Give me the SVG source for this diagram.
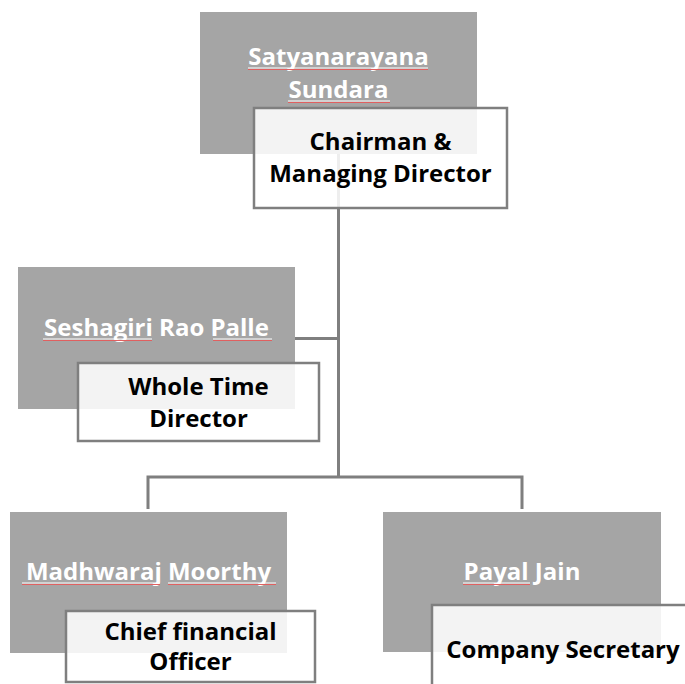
<svg xmlns="http://www.w3.org/2000/svg" width="685" height="684" viewBox="0 0 685 684">
<style>
.name{fill:#a5a5a5;}
.title{fill:#ffffff;fill-opacity:0.87;stroke:#7f7f7f;stroke-width:2.5;}
.nt{font-family:"Open Sans","Liberation Sans",sans-serif;font-weight:bold;font-size:24px;fill:#ffffff;text-anchor:middle;}
.tt{font-family:"Open Sans","Liberation Sans",sans-serif;font-weight:bold;font-size:24px;fill:#000000;text-anchor:middle;}
.conn{fill:none;stroke:#7f7f7f;stroke-width:3;}
.ul{stroke:#ffffff;stroke-width:1.2;}
.sp{stroke:#e06060;stroke-width:1;}
</style>
<rect width="685" height="684" fill="#ffffff"/>
<g id="connectors">
<path class="conn" d="M338.5,154 V477"/>
<path class="conn" d="M295,338.5 H338.5"/>
<path class="conn" d="M148,509 V477 H522 V509"/>
</g>
<g id="node-chairman">
<rect class="name" x="200" y="12" width="277" height="142"/>
<text class="nt" x="338.5" y="65">Satyanarayana</text>
<text class="nt" x="338.5" y="98">Sundara</text>
<line class="ul" x1="248" y1="68" x2="428" y2="68"/>
<line class="sp" x1="248" y1="69.5" x2="428" y2="69.5"/>
<line class="ul" x1="288" y1="101" x2="390" y2="101"/>
<line class="sp" x1="288" y1="102.5" x2="390" y2="102.5"/>
<rect class="title" x="254" y="108" width="253" height="100"/>
<text class="tt" x="380.5" y="150">Chairman &amp;</text>
<text class="tt" x="380.5" y="182">Managing Director</text>
</g>
<g id="node-wtd">
<rect class="name" x="18" y="267" width="277" height="142"/>
<text class="nt" x="156.5" y="336">Seshagiri Rao Palle</text>
<line class="ul" x1="43" y1="339" x2="152" y2="339"/>
<line class="sp" x1="43" y1="340.5" x2="152" y2="340.5"/>
<line class="ul" x1="213" y1="339" x2="272" y2="339"/>
<line class="sp" x1="213" y1="340.5" x2="272" y2="340.5"/>
<rect class="title" x="78" y="363" width="241" height="78"/>
<text class="tt" x="198.5" y="395">Whole Time</text>
<text class="tt" x="198.5" y="427">Director</text>
</g>
<g id="node-cfo">
<rect class="name" x="10" y="512" width="277" height="141"/>
<text class="nt" x="148.5" y="580">Madhwaraj Moorthy</text>
<line class="ul" x1="22" y1="583" x2="160" y2="583"/>
<line class="sp" x1="22" y1="584.5" x2="160" y2="584.5"/>
<line class="ul" x1="168" y1="583" x2="276" y2="583"/>
<line class="sp" x1="168" y1="584.5" x2="276" y2="584.5"/>
<rect class="title" x="66" y="611" width="249" height="71"/>
<text class="tt" x="190.5" y="640">Chief financial</text>
<text class="tt" x="190.5" y="670">Officer</text>
</g>
<g id="node-cs">
<rect class="name" x="383" y="512" width="278" height="140"/>
<text class="nt" x="522" y="580">Payal Jain</text>
<line class="ul" x1="463" y1="583" x2="530" y2="583"/>
<line class="sp" x1="463" y1="584.5" x2="530" y2="584.5"/>
<rect class="title" x="432" y="605" width="262" height="100"/>
<text class="tt" x="563" y="658">Company Secretary</text>
</g>
</svg>
